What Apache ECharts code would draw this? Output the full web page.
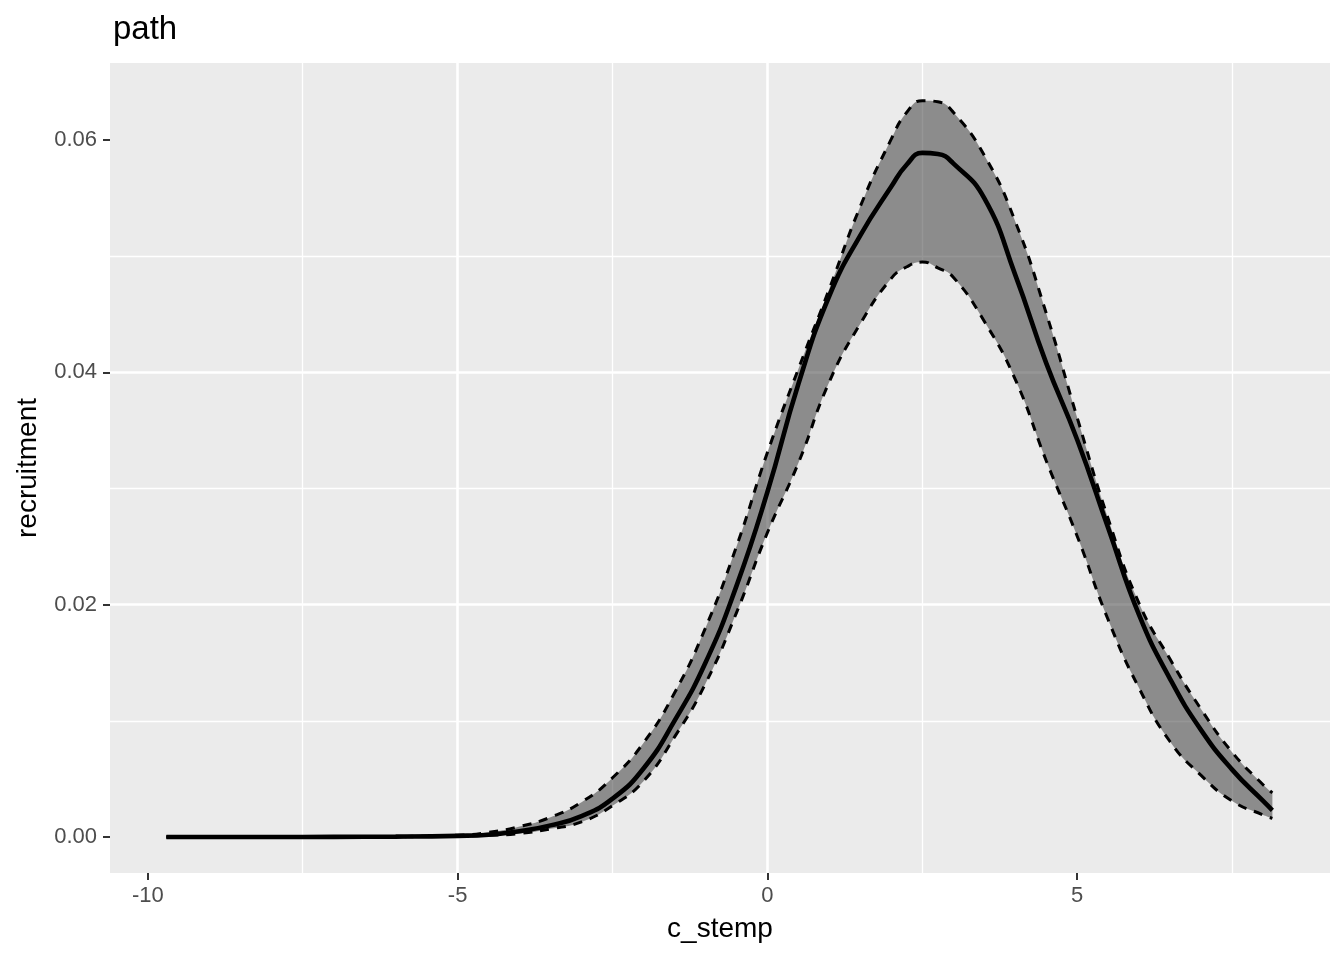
<!DOCTYPE html>
<html>
<head>
<meta charset="utf-8">
<script src="https://cdn.jsdelivr.net/npm/echarts@6/dist/echarts.min.js"></script>
<style>html,body{margin:0;padding:0;background:#fff}#c{width:1344px;height:960px}</style>
</head>
<body>
<div id="c"></div>
<script>
const cStemp = [-9.7,-9,-8,-7,-6,-5,-4.5,-4,-3.5,-3,-2.5,-2,-1.5,-1,-0.5,0,0.5,1,1.5,2,2.25,2.5,2.75,3,3.5,4,4.5,5,5.5,6,6.5,7,7.5,8,8.15];
const recruitMean = [0,0,0,0.00001,0.00003,0.0001,0.0002,0.0005,0.001,0.0018,0.0033,0.0059,0.0100,0.0150,0.0216,0.0297,0.0390,0.0466,0.0518,0.0560,0.0579,0.0589,0.0588,0.0580,0.0550,0.0484,0.0408,0.0342,0.0266,0.0191,0.0136,0.0092,0.0058,0.0031,0.0023];
const recruitUpper = [0,0,0,0.00001,0.00004,0.00015,0.0004,0.0009,0.0017,0.0030,0.0051,0.0081,0.0124,0.0180,0.0250,0.0331,0.0403,0.0472,0.0543,0.0601,0.0624,0.0634,0.0633,0.0624,0.0587,0.0530,0.0451,0.0361,0.0274,0.0201,0.0153,0.0110,0.0073,0.0045,0.0038];
const recruitLower = [0,0,0,0,0.00002,0.00007,0.00015,0.0003,0.0007,0.0013,0.0027,0.0048,0.0086,0.0132,0.0193,0.0262,0.0322,0.0392,0.0442,0.0481,0.0491,0.0495,0.0490,0.0482,0.0444,0.0394,0.0324,0.0259,0.0187,0.0128,0.0082,0.0053,0.0031,0.0019,0.0016];
const xTicks = [-10,-5,0,5];
const yTicks = [0,0.02,0.04,0.06];

const pairs = (ys) => cStemp.map((x,i)=>[x, ys[i]]);
const SM = 0.5;
const FONT = 'Liberation Sans';

// Sample a smoothed curve through pixel points, using the same control-point rule as ECharts' smooth line.
function smoothSample(pts, smooth, steps) {
  const out = [pts[0]];
  const n = pts.length;
  const mn = Math.min, mx = Math.max;
  let cp0 = pts[0].slice();
  for (let i = 1; i < n; i++) {
    const [x, y] = pts[i];
    const [px, py] = pts[i-1];
    let cp1, nextCp0;
    if (i === n - 1) { cp1 = [x, y]; nextCp0 = [x, y]; }
    else {
      const [nx, ny] = pts[i+1];
      let vx = nx - px, vy = ny - py;
      const lp = Math.hypot(x - px, y - py), ln = Math.hypot(nx - x, ny - y);
      const r = ln / (ln + lp);
      let ncx = x + vx * smooth * r, ncy = y + vy * smooth * r;
      ncx = mx(mn(ncx, mx(nx, x)), mn(nx, x));
      ncy = mx(mn(ncy, mx(ny, y)), mn(ny, y));
      vx = ncx - x; vy = ncy - y;
      let c1x = x - vx * lp / ln, c1y = y - vy * lp / ln;
      c1x = mx(mn(c1x, mx(px, x)), mn(px, x));
      c1y = mx(mn(c1y, mx(py, y)), mn(py, y));
      vx = x - c1x; vy = y - c1y;
      cp1 = [c1x, c1y];
      nextCp0 = [x + vx * ln / lp, y + vy * ln / lp];
    }
    for (let s = 1; s <= steps; s++) {
      const t = s / steps, u = 1 - t;
      out.push([
        u*u*u*px + 3*u*u*t*cp0[0] + 3*u*t*t*cp1[0] + t*t*t*x,
        u*u*u*py + 3*u*u*t*cp0[1] + 3*u*t*t*cp1[1] + t*t*t*y
      ]);
    }
    cp0 = nextCp0;
  }
  return out;
}

const chart = echarts.init(document.getElementById('c'), null, {renderer:'canvas'});
chart.setOption({
  animation:false,
  backgroundColor:'#ffffff',
  title:{text:'path', left:108, top:8, textStyle:{fontFamily:FONT, fontSize:33, fontWeight:'normal', color:'#000'}},
  grid:{left:110, right:14, top:63, bottom:87, show:true, backgroundColor:'#EBEBEB', borderWidth:0},
  xAxis:{
    type:'value', min:-10.61, max:9.08, splitNumber:4,
    name:'c_stemp', nameLocation:'middle', nameGap:42,
    nameTextStyle:{fontFamily:FONT, fontSize:28, color:'#000'},
    axisLine:{show:false, onZero:false},
    axisTick:{show:true, length:7, lineStyle:{color:'#333', width:2}, customValues:xTicks},
    axisLabel:{fontFamily:FONT, fontSize:22, color:'#4D4D4D', margin:12, customValues:xTicks, formatter:(v)=>String(v)},
    splitLine:{show:true, showMinLine:false, showMaxLine:false, lineStyle:{color:'#fff', width:2.6}},
    minorTick:{show:false, splitNumber:2},
    minorSplitLine:{show:true, lineStyle:{color:'#fff', width:1.3}}
  },
  yAxis:{
    type:'value', min:-0.0031, max:0.06664, splitNumber:3,
    name:'recruitment', nameLocation:'middle', nameGap:68,
    nameTextStyle:{fontFamily:FONT, fontSize:28, color:'#000'},
    axisLine:{show:false, onZero:false},
    axisTick:{show:true, length:7, lineStyle:{color:'#333', width:2}, customValues:yTicks},
    axisLabel:{fontFamily:FONT, fontSize:22, color:'#4D4D4D', margin:13, customValues:yTicks, formatter:(v)=>v.toFixed(2)},
    splitLine:{show:true, showMinLine:false, showMaxLine:false, lineStyle:{color:'#fff', width:2.6}},
    minorTick:{show:false, splitNumber:2},
    minorSplitLine:{show:true, lineStyle:{color:'#fff', width:1.3}}
  },
  series:[
    {type:'custom', name:'band', data:[[0]], z:2, silent:true,
     renderItem:function(params, api){
       if (params.dataIndex !== 0) return;
       const up = cStemp.map((x,i)=>api.coord([x, recruitUpper[i]]));
       const lo = cStemp.map((x,i)=>api.coord([x, recruitLower[i]]));
       const upS = smoothSample(up, SM, 12);
       const loS = smoothSample(lo, SM, 12).reverse();
       return {type:'polygon', shape:{points: upS.concat(loS)},
               style:{fill:'rgba(45,45,45,0.5)', stroke:null}};
     }},
    {type:'line', name:'upper', data:pairs(recruitUpper), smooth:SM, symbol:'none',
     lineStyle:{color:'#000', width:3, type:[9,8]}, z:3},
    {type:'line', name:'lower', data:pairs(recruitLower), smooth:SM, symbol:'none',
     lineStyle:{color:'#000', width:3, type:[9,8]}, z:3},
    {type:'line', name:'mean', data:pairs(recruitMean), smooth:SM, symbol:'none',
     lineStyle:{color:'#000', width:4.6}, z:4}
  ]
});
</script>
</body>
</html>
